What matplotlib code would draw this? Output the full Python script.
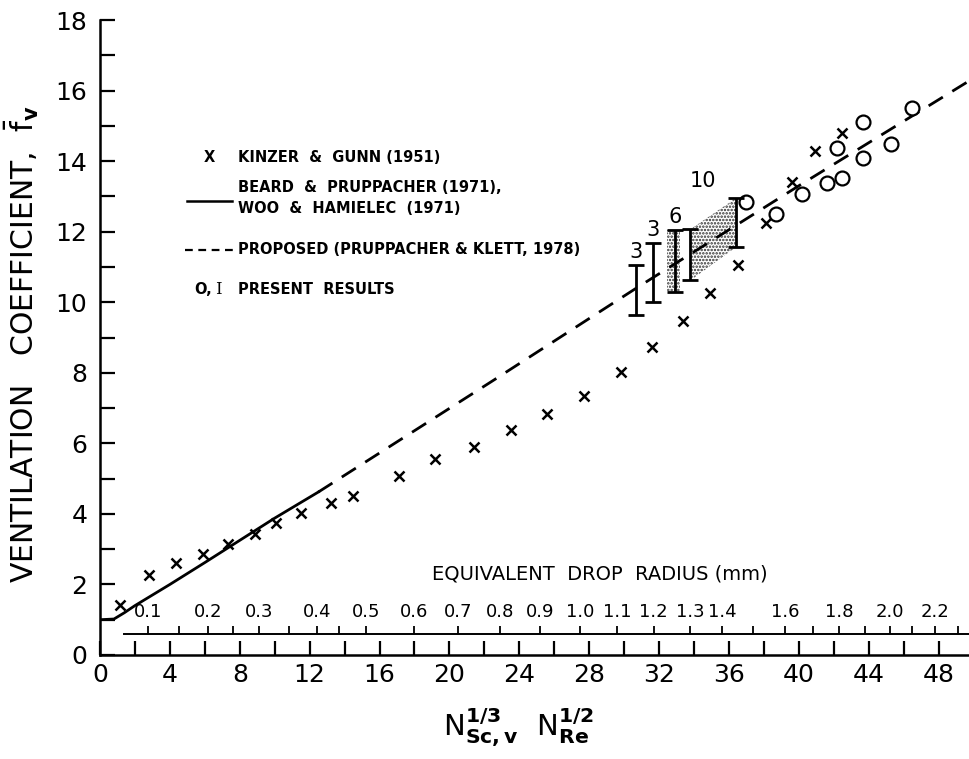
import matplotlib
matplotlib.use('Agg')
import matplotlib.pyplot as plt
import numpy as np

# Kinzer & Gunn (1951)
kg_x = [1.15, 2.8, 4.35, 5.9, 7.3, 8.9, 10.1, 11.5, 13.2, 14.5, 17.1, 19.2,
        21.4, 23.5, 25.6, 27.7, 29.8, 31.6, 33.4, 34.9, 36.5, 38.1, 39.6,
        40.9, 42.5]
kg_y = [1.42, 2.27, 2.6, 2.87, 3.15, 3.43, 3.74, 4.02, 4.31, 4.5, 5.07, 5.55,
        5.89, 6.37, 6.83, 7.34, 8.02, 8.73, 9.46, 10.26, 11.05, 12.24, 13.4,
        14.28, 14.8]

# Beard & Pruppacher / Woo & Hamielec (solid)
bp_x = [0.0, 0.8, 1.4, 2.0, 3.0, 4.0, 6.0, 8.0, 10.0, 12.5]
bp_y = [1.0, 1.02, 1.2, 1.4, 1.7, 2.0, 2.62, 3.25, 3.88, 4.62]

# proposed (Pruppacher & Klett, 1978), dashed
pk_x = [12.5, 22.5, 30.7, 40.0, 50.0]
pk_y = [4.62, 7.78, 10.4, 13.3, 16.35]

# present results: circles
pr_x = [37.0, 38.7, 40.2, 41.6, 42.5, 42.2, 43.7, 43.7, 45.3, 46.5]
pr_y = [12.83, 12.49, 13.06, 13.37, 13.51, 14.36, 14.08, 15.1, 14.48, 15.5]

# present results: error bars
eb_x = [30.7, 31.65, 32.9, 33.8, 36.4]
eb_lo = [9.63, 10.0, 10.28, 10.62, 11.56]
eb_hi = [11.05, 11.67, 12.04, 12.07, 12.95]
eb_lbl = ['3', '3', '6', '', '10']

# stippled bands
band1_x = [32.45, 33.2]
band1_lo = [10.28, 10.28]
band1_hi = [12.04, 12.04]
band2_x = [33.8, 36.4]
band2_lo = [10.62, 11.56]
band2_hi = [12.07, 12.95]

# equivalent drop radius scale (mm) against N^1/3 N^1/2
rad_vals = [0.1, 0.15, 0.2, 0.25, 0.3, 0.35, 0.4, 0.45, 0.5, 0.6, 0.7, 0.8,
            0.9, 1.0, 1.1, 1.2, 1.3, 1.4, 1.5, 1.6, 1.7, 1.8, 1.9, 2.0, 2.1,
            2.2, 2.3]
rad_pos = [2.75, 4.5, 6.2, 7.6, 9.1, 10.8, 12.4, 13.7, 15.25, 17.95, 20.5,
           22.9, 25.2, 27.5, 29.6, 31.7, 33.8, 35.6, 37.4, 39.2, 40.8, 42.3,
           43.8, 45.2, 46.5, 47.8, 49.1]
rad_labeled = ['0.1', '0.2', '0.3', '0.4', '0.5', '0.6', '0.7', '0.8', '0.9',
               '1.0', '1.1', '1.2', '1.3', '1.4', '1.6', '1.8', '2.0', '2.2']

plt.rcParams['hatch.linewidth'] = 1.2
plt.rcParams['mathtext.fontset'] = 'dejavusans'

fig = plt.figure(figsize=(9.7, 7.59), dpi=100)
ax = fig.add_axes([100/970, 104/759, 870/970, 635/759])
ax.set_xlim(0, 49.8)
ax.set_ylim(0, 18)

for s in ['top', 'right']:
    ax.spines[s].set_visible(False)
for s in ['left', 'bottom']:
    ax.spines[s].set_linewidth(1.8)

ax.set_xticks(np.arange(0, 49, 4))
ax.set_xticks(np.arange(2, 50, 4), minor=True)
ax.set_yticks(np.arange(0, 19, 2))
ax.set_yticks(np.arange(1, 18, 2), minor=True)
ax.tick_params(which='both', direction='in', length=11, width=1.6)
ax.tick_params(axis='x', which='both', length=10, pad=6, labelsize=18)
ax.tick_params(axis='y', which='both', pad=9, labelsize=18)

ax.plot(bp_x, bp_y, 'k-', lw=2.0)
ax.plot(pk_x, pk_y, 'k-', lw=2.0, dashes=(6, 4))
ax.plot(kg_x, kg_y, 'kx', ms=7, mew=1.8, ls='none')
ax.plot(pr_x, pr_y, 'o', mfc='white', mec='k', ms=10, mew=1.6, ls='none')

# stipple
for bx, blo, bhi in [(band1_x, band1_lo, band1_hi), (band2_x, band2_lo, band2_hi)]:
    ax.fill_between(bx, blo, bhi, facecolor='white', edgecolor='#303030',
                    hatch='.....', lw=0)

eb_x = np.array(eb_x)
eb_lo = np.array(eb_lo)
eb_hi = np.array(eb_hi)
mid = (eb_lo + eb_hi) / 2
ax.errorbar(eb_x, mid, yerr=[mid - eb_lo, eb_hi - mid], fmt='none',
            ecolor='k', elinewidth=2.0, capsize=6, capthick=2.0)
for x, hi, lab in zip(eb_x, eb_hi, eb_lbl):
    if lab == '10':
        ax.text(x - 1.9, hi + 0.2, lab, fontsize=15, ha='center', va='bottom')
    elif lab:
        ax.text(x, hi + 0.1, lab, fontsize=15, ha='center', va='bottom')

# radius scale
ry = 0.6
ax.plot([1.4, 49.8], [ry, ry], 'k-', lw=1.4, clip_on=False)
ax.vlines(rad_pos, ry, ry + 0.22, colors='k', lw=1.3)
for r, p in zip(rad_vals, rad_pos):
    lab = '%.1f' % r
    if lab in rad_labeled and abs(r * 10 - round(r * 10)) < 1e-6:
        ax.text(p, 1.22, lab, fontsize=13, ha='center', va='center')
ax.text(28.6, 2.3, 'EQUIVALENT  DROP  RADIUS (mm)', fontsize=14,
        ha='center', va='center')

# legend
lt = ax.transAxes
fb = dict(fontsize=10.5, fontweight='bold', va='center', transform=lt)
ax.text(0.126, 0.784, 'X', ha='center', **fb)
ax.text(0.159, 0.784, 'KINZER  &  GUNN (1951)', ha='left', **fb)
ax.plot([0.100, 0.152], [0.715, 0.715], 'k-', lw=1.8, transform=lt)
ax.text(0.159, 0.737, 'BEARD  &  PRUPPACHER (1971),', ha='left', **fb)
ax.text(0.159, 0.703, 'WOO  &  HAMIELEC  (1971)', ha='left', **fb)
ax.plot([0.098, 0.157], [0.638, 0.638], 'k-', lw=1.6, dashes=(3.5, 2.5),
        transform=lt)
ax.text(0.159, 0.638, 'PROPOSED (PRUPPACHER & KLETT, 1978)', ha='left', **fb)
ax.text(0.118, 0.575, 'O,', ha='center', **fb)
ax.text(0.136, 0.575, 'I', ha='center', fontsize=12, va='center',
        family='DejaVu Serif', transform=lt)
ax.text(0.159, 0.575, 'PRESENT  RESULTS', ha='left', **fb)

ax.set_ylabel(r'VENTILATION   COEFFICIENT,  $\bar{\mathrm{f}}_{\mathbf{v}}$',
              fontsize=21.5)
ax.yaxis.set_label_coords(-0.068, 0.49)
fig.text(0.535, (759 - 728) / 759,
         r'$\mathrm{N}^{\mathbf{1/3}}_{\mathbf{Sc,v}}\ \ \mathrm{N}^{\mathbf{1/2}}_{\mathbf{Re}}$',
         fontsize=21, ha='center', va='center')

fig.savefig('out.png', dpi=100)
